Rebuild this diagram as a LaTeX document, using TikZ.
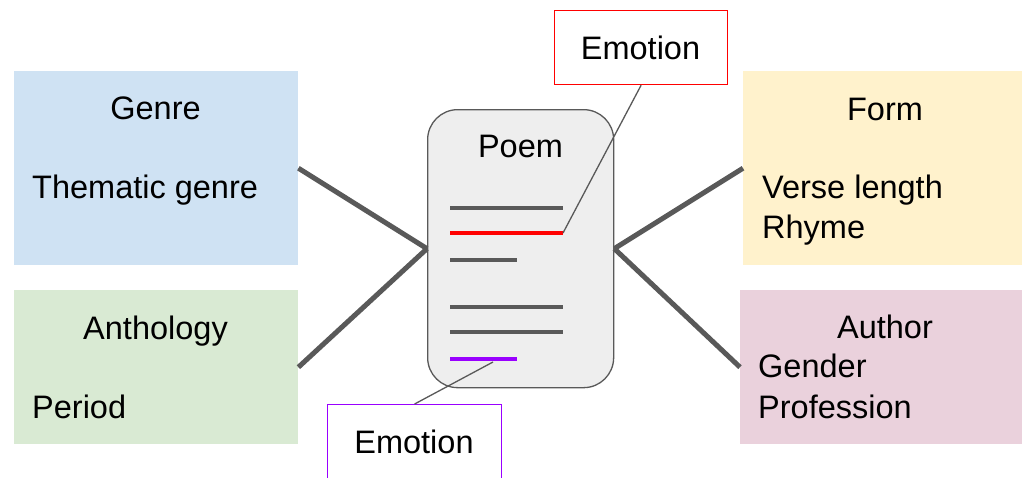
\documentclass[tikz,border=0pt]{standalone}
\usepackage{fontspec}
\setmainfont{Liberation Sans}
\definecolor{blueF}{HTML}{CFE2F3}
\definecolor{greenF}{HTML}{D9EAD3}
\definecolor{yellowF}{HTML}{FFF2CC}
\definecolor{pinkF}{HTML}{EAD1DC}
\definecolor{poemF}{HTML}{EEEEEE}
\definecolor{darkG}{HTML}{595959}
\definecolor{purp}{HTML}{9900FF}
\begin{document}
\begin{tikzpicture}[x=1pt,y=-1pt,
  font=\fontsize{32.5}{40}\selectfont,
  box/.style={rectangle, inner sep=0pt, anchor=north west},
  txt/.style={inner sep=0pt, anchor=base},
  ltxt/.style={inner sep=0pt, anchor=base west},
  conn/.style={darkG, line width=5pt},
  thinconn/.style={darkG, line width=1.3pt},
  pline/.style={darkG, line width=4pt},
]
\clip (0,0) rectangle (1022,477);
\fill[white] (0,0) rectangle (1022,477);

% category boxes
\node[box, fill=blueF, minimum width=284pt, minimum height=194pt] (genre) at (14,71) {};
\node[box, fill=greenF, minimum width=284pt, minimum height=154pt] (anth) at (14,290) {};
\node[box, fill=yellowF, minimum width=279pt, minimum height=194pt] (form) at (743,71) {};
\node[box, fill=pinkF, minimum width=282pt, minimum height=154pt] (author) at (740,290) {};

\node[txt] (genret) at (155.5,119) {Genre};
\node[ltxt] (thematic) at (32,198) {Thematic genre};
\node[txt] (anthet) at (155.5,339) {Anthology};
\node[ltxt] (period) at (32,418) {Period};
\node[txt] (formt) at (885,120) {Form};
\node[ltxt] (verse) at (762,198) {Verse length};
\node[ltxt] (rhyme) at (762,238) {Rhyme};
\node[txt] (authort) at (885,338) {Author};
\node[ltxt] (gender) at (758,377) {Gender};
\node[ltxt] (prof) at (758,418) {Profession};

% poem
\node[box, draw=darkG, line width=1.3pt, fill=poemF, rounded corners=30pt,
      minimum width=186pt, minimum height=278pt] (poem) at (427,109) {};
\node[txt] (poemt) at (520.5,157) {Poem};
\draw[pline] (450,208) -- (563,208);
\draw[red, line width=4pt] (450,233) -- (563,233) coordinate (redend);
\draw[pline] (450,260) -- (517,260);
\draw[pline] (450,307) -- (563,307);
\draw[pline] (450,332) -- (563,332);
\draw[purp, line width=4pt] (450,359) -- (517,359);
\coordinate (purpin) at (493,362);

% connectors to categories
\draw[conn] (genre.east) -- (poem.west);
\draw[conn] (anth.east) -- (poem.west);
\draw[conn] (poem.east) -- (form.west);
\draw[conn] (poem.east) -- (author.west);

% emotion boxes
\node[box, draw=red, line width=1.2pt, fill=white, minimum width=173pt, minimum height=74pt] (emo1) at (554,10) {};
\node[txt] (emo1t) at (640.5,59) {Emotion};
\node[box, draw=purp, line width=1.2pt, fill=white, minimum width=174pt, minimum height=90pt] (emo2) at (327,404) {};
\node[txt] (emo2t) at (414,453) {Emotion};

\draw[thinconn] (emo1.south) -- (redend);
\draw[thinconn] (purpin) -- (emo2.north);
\end{tikzpicture}
\end{document}
